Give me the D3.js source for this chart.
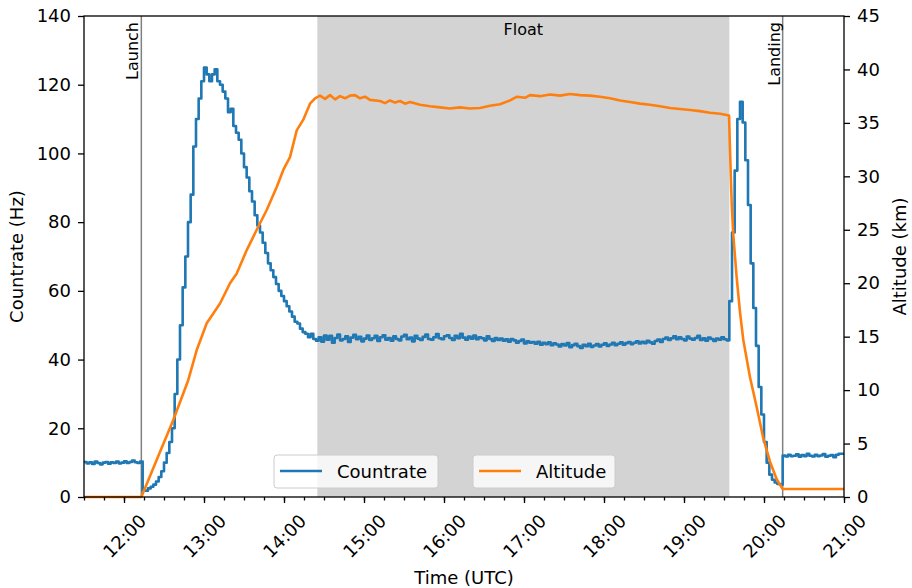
<!DOCTYPE html>
<html>
<head>
<meta charset="utf-8">
<script src="https://cdn.jsdelivr.net/npm/d3@7/dist/d3.min.js"></script>
<style>
  body { margin: 0; background: #fff; }
  svg text { font-family: "DejaVu Sans", sans-serif; fill: #000; }
</style>
</head>
<body>
<svg id="chart" width="912" height="588"></svg>
<script>
"use strict";

// Countrate, 2-minute bins starting at 11:30 UTC (Hz)
let binStart = 11.5;
let binMinutes = 2;
let countPreLaunch = [10.2, 9.8, 10.1, 9.6, 10.3, 9.9, 9.5, 10.0, 10.2, 9.7, 10.1,
  9.9, 10.3, 9.8, 10.0, 10.4, 9.9, 10.2, 10.6, 10.1, 9.9, 10.3];
let countAscent = [2.0, 1.8, 2.5, 3.0, 3.6, 4.5, 5.8, 7.5, 10, 12.8, 16, 20, 30, 40,
  50, 61, 70, 80, 88, 102, 110, 116, 121, 125, 123, 121, 123, 124.5, 121, 120, 118,
  116, 112, 113, 108, 106, 104, 100, 96, 93, 89, 86, 82, 79, 77, 74, 71, 68, 66, 64,
  62, 60, 58.5, 57, 55.5, 54, 52.5, 51, 50.5, 49, 48, 47.5, 46.5, 47.5, 46, 45.5];
let countFloat = [
  46.5, 45.2, 47.0, 45.8, 46.9, 44.9, 46.3, 47.3, 45.6, 46.0,
  46.8, 45.1, 46.4, 47.2, 45.9, 46.6, 45.3, 46.1, 47.0, 45.7,
  46.2, 46.9, 45.4, 46.5, 47.1, 45.8, 46.3, 45.5, 46.8, 46.0,
  45.6, 46.7, 47.2, 45.9, 46.4, 45.3, 46.9, 46.1, 45.7, 46.6,
  47.3, 46.0, 45.8, 46.5, 47.4, 46.2, 45.9, 46.8, 47.1, 46.3,
  45.7, 46.9, 46.2, 47.5, 46.4, 45.8, 46.7, 46.1, 47.0, 45.9,
  46.5, 46.2, 45.6, 46.8, 46.0, 45.4, 46.3, 45.7, 46.1, 45.5,
  45.9, 45.2, 46.0, 45.6, 44.9, 45.4, 45.8, 44.7, 45.3, 44.9,
  45.1, 44.6, 45.2, 44.3, 44.9, 44.5, 45.0, 44.2, 44.7, 44.4,
  43.8, 44.5, 44.1, 44.8, 43.6, 44.2, 44.6, 43.9, 43.4, 44.3,
  43.9, 44.6, 43.7, 44.1, 44.5, 43.8, 44.3, 44.7, 44.0, 44.4,
  44.9, 44.2, 44.6, 45.0, 44.3, 44.8, 45.1, 44.5, 44.9, 45.3,
  44.7, 45.2, 44.8, 45.5, 45.0, 44.6, 45.4, 45.8, 45.1, 46.0,
  46.4, 45.7, 46.2, 46.8, 45.9, 46.5, 46.0, 45.6, 46.7, 46.1,
  45.8, 46.3, 46.9, 45.7, 46.2, 45.5, 46.4, 46.0, 45.4, 46.1,
  45.8, 46.5, 45.9, 45.6];
let countDescent = [57, 77, 95, 110, 115, 109, 98, 85, 68, 55, 44, 32, 24, 16, 10,
  6.5, 5, 4.2, 3.8, 3.6];
let countLanded = [12.1, 11.8, 12.3, 11.9, 12.0, 12.4, 11.7, 12.2, 11.9, 12.6, 12.0,
  11.8, 12.3, 11.9, 12.1, 12.5, 11.7, 12.0, 12.2, 11.6, 12.3, 12.6];

// Altitude (km) against time in decimal hours UTC
let altHours = [11.5, 12.217, 12.408, 12.616, 12.804, 12.909, 13.034, 13.2, 13.325,
  13.409, 13.534, 13.659, 13.784, 13.909, 13.991, 14.075, 14.159, 14.241, 14.325,
  14.388, 14.45, 14.513, 14.575, 14.638, 14.7, 14.763, 14.825, 14.888, 14.95, 15.013,
  15.075, 15.2, 15.263, 15.325, 15.388, 15.45, 15.513, 15.575, 15.7, 15.825, 15.95,
  16.075, 16.2, 16.325, 16.45, 16.575, 16.7, 16.825, 16.913, 17.013, 17.075, 17.2,
  17.325, 17.45, 17.575, 17.7, 17.825, 17.95, 18.075, 18.2, 18.325, 18.45, 18.575,
  18.7, 18.825, 18.95, 19.075, 19.2, 19.325, 19.45, 19.563, 19.575, 19.596, 19.616,
  19.659, 19.7, 19.741, 19.825, 19.909, 19.991, 20.075, 20.159, 20.233, 21.0];
let altKm = [0, 0, 3.46, 7.2, 10.95, 13.75, 16.25, 18.1, 20.0, 20.9, 23.1, 25.0,
  26.85, 29.0, 30.6, 31.8, 34.3, 35.3, 36.8, 37.3, 37.55, 37.25, 37.6, 37.2, 37.5,
  37.3, 37.55, 37.6, 37.3, 37.45, 37.15, 37.05, 36.85, 37.1, 36.9, 37.05, 36.8, 36.95,
  36.7, 36.55, 36.45, 36.35, 36.45, 36.35, 36.4, 36.6, 36.75, 37.1, 37.45, 37.35,
  37.6, 37.5, 37.65, 37.55, 37.7, 37.6, 37.55, 37.45, 37.3, 37.1, 36.95, 36.8, 36.7,
  36.55, 36.4, 36.3, 36.2, 36.1, 35.95, 35.85, 35.7, 32.5, 27.5, 24.5, 20.5, 17.3,
  14.7, 11.2, 8.4, 5.5, 3.3, 1.66, 0.75, 0.75];

// Flight events (decimal hours UTC)
let launchHour = 12 + 13 / 60;
let landingHour = 20 + 14 / 60;
let floatStart = 14 + 25 / 60;
let floatEnd = 19 + 34 / 60;

let countTicks = [0, 20, 40, 60, 80, 100, 120, 140];
let altTicks = [0, 5, 10, 15, 20, 25, 30, 35, 40, 45];

let blue = '#1f77b4';
let orange = '#ff7f0e';

let toDate = h => new Date(Date.UTC(2000, 0, 1) + Math.round(h * 3600) * 1000);

let counts = [].concat(countPreLaunch, countAscent, countFloat, countDescent, countLanded)
  .map((v, i) => ({ t: toDate(binStart + i * binMinutes / 60), v: v }));
// hold the last bin to the end of the plot
counts.push({ t: toDate(21), v: counts[counts.length - 1].v });

let altitude = altHours.map((h, i) => ({ t: toDate(h), v: altKm[i] }));

let plotL = 84, plotR = 844, plotT = 16, plotB = 497;

let x = d3.scaleUtc()
  .domain([toDate(11.5), toDate(21)])
  .range([plotL, plotR]);
let yCount = d3.scaleLinear().domain([0, 140]).range([plotB, plotT]);
let yAlt = d3.scaleLinear().domain([0, 45]).range([plotB, plotT]);

let svg = d3.select('#chart');

// Float period
svg.append('rect')
  .attr('x', x(toDate(floatStart)))
  .attr('y', plotT)
  .attr('width', x(toDate(floatEnd)) - x(toDate(floatStart)))
  .attr('height', plotB - plotT)
  .attr('fill', '#d3d3d3');

svg.append('text')
  .attr('x', (x(toDate(floatStart)) + x(toDate(floatEnd))) / 2)
  .attr('y', 35)
  .attr('text-anchor', 'middle')
  .style('font-size', '16px')
  .text('Float');

// Launch / landing markers
[[launchHour, 'Launch'], [landingHour, 'Landing']].forEach(([h, label]) => {
  let px = x(toDate(h));
  svg.append('line')
    .attr('x1', px).attr('x2', px)
    .attr('y1', plotT).attr('y2', plotB)
    .attr('stroke', '#808080')
    .attr('stroke-width', 1.5);
  svg.append('text')
    .attr('transform', `translate(${px - 3},22) rotate(-90)`)
    .attr('text-anchor', 'end')
    .style('font-size', '16px')
    .text(label);
});

svg.append('path')
  .datum(counts)
  .attr('fill', 'none')
  .attr('stroke', blue)
  .attr('stroke-width', 2.6)
  .attr('stroke-linejoin', 'round')
  .attr('d', d3.line()
    .x(d => x(d.t))
    .y(d => yCount(d.v))
    .curve(d3.curveStepAfter));

svg.append('path')
  .datum(altitude)
  .attr('fill', 'none')
  .attr('stroke', orange)
  .attr('stroke-width', 2.6)
  .attr('stroke-linejoin', 'round')
  .attr('d', d3.line()
    .x(d => x(d.t))
    .y(d => yAlt(d.v)));

// Axes
let xAxis = svg.append('g')
  .attr('transform', `translate(0,${plotB})`)
  .call(d3.axisBottom(x)
    .ticks(d3.utcHour.every(1))
    .tickFormat(d3.utcFormat('%H:%M'))
    .tickSizeOuter(0)
    .tickSize(6));
xAxis.selectAll('text')
  .attr('y', 0).attr('dy', null)
  .attr('text-anchor', 'middle')
  .attr('dominant-baseline', 'central')
  .attr('transform', 'translate(0,39) rotate(-45)');

svg.append('g')
  .attr('transform', `translate(0,${plotB})`)
  .call(d3.axisBottom(x)
    .ticks(d3.utcMinute.every(15))
    .tickFormat('')
    .tickSizeOuter(0)
    .tickSize(3.5));

svg.append('g')
  .attr('transform', `translate(${plotL},0)`)
  .call(d3.axisLeft(yCount).tickValues(countTicks).tickSizeOuter(0).tickSize(6).tickPadding(7));

svg.append('g')
  .attr('transform', `translate(${plotR},0)`)
  .call(d3.axisRight(yAlt).tickValues(altTicks).tickSizeOuter(0).tickSize(6).tickPadding(7));

svg.selectAll('.domain').remove();
svg.selectAll('.tick line').attr('stroke', '#000').attr('stroke-width', 1.3);
svg.selectAll('.tick text').style('font-size', '18px').attr('font-family', null);

// Frame
svg.append('rect')
  .attr('x', plotL).attr('y', plotT)
  .attr('width', plotR - plotL).attr('height', plotB - plotT)
  .attr('fill', 'none')
  .attr('stroke', '#000')
  .attr('stroke-width', 1.3);

// Axis titles
svg.append('text')
  .attr('x', (plotL + plotR) / 2)
  .attr('y', 584)
  .attr('text-anchor', 'middle')
  .style('font-size', '18px')
  .text('Time (UTC)');
svg.append('text')
  .attr('transform', `translate(23,${(plotT + plotB) / 2}) rotate(-90)`)
  .attr('text-anchor', 'middle')
  .style('font-size', '18px')
  .text('Countrate (Hz)');
svg.append('text')
  .attr('transform', `translate(906,${(plotT + plotB) / 2}) rotate(-90)`)
  .attr('text-anchor', 'middle')
  .style('font-size', '18px')
  .text('Altitude (km)');

// Two separate legends, one per axis
[[274, 164, blue, 'Countrate'], [473, 142, orange, 'Altitude']].forEach(([lx, w, c, label]) => {
  let g = svg.append('g').attr('transform', `translate(${lx},455)`);
  g.append('rect')
    .attr('width', w).attr('height', 33)
    .attr('rx', 3)
    .attr('fill', '#fff').attr('fill-opacity', 0.8)
    .attr('stroke', '#ccc').attr('stroke-width', 1);
  g.append('line')
    .attr('x1', 6).attr('x2', 48)
    .attr('y1', 16).attr('y2', 16)
    .attr('stroke', c).attr('stroke-width', 2.6);
  g.append('text')
    .attr('x', 63).attr('y', 23)
    .style('font-size', '18px')
    .text(label);
});
</script>
</body>
</html>
